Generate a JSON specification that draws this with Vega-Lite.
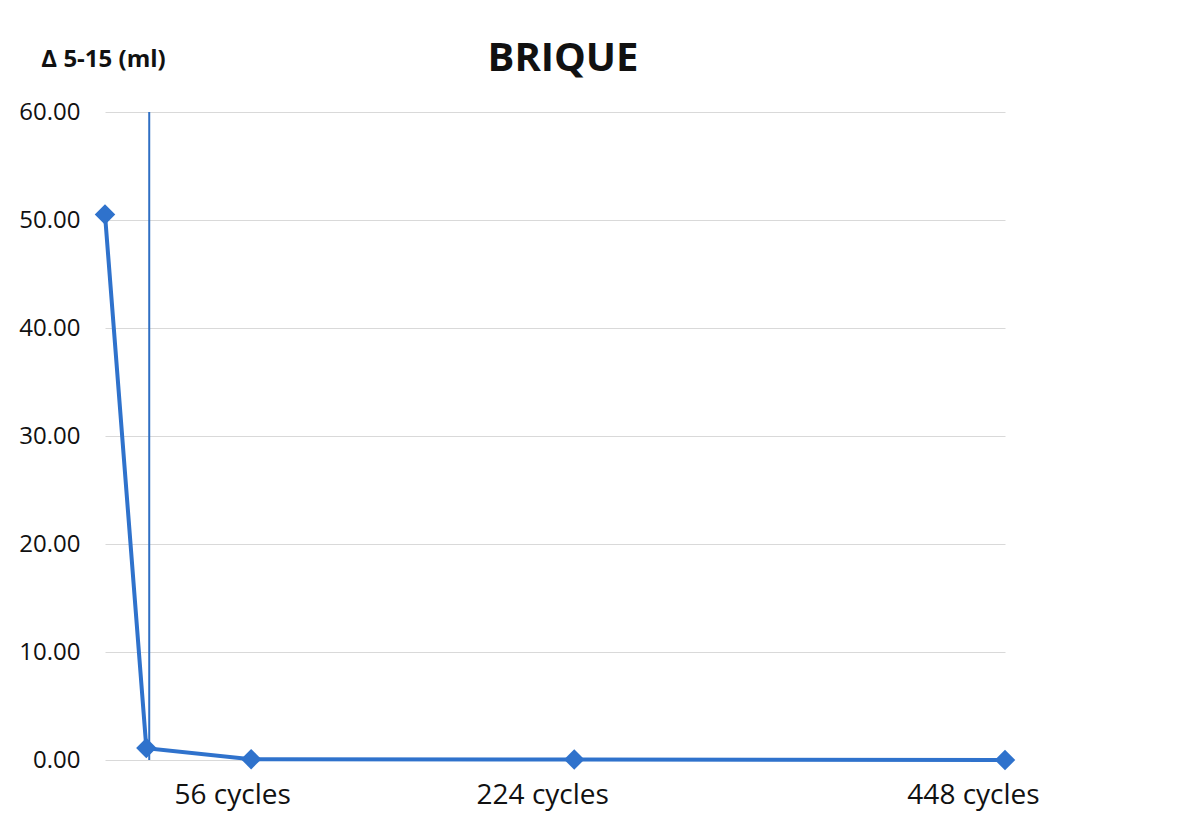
{
  "$schema": "https://vega.github.io/schema/vega-lite/v6.json",
  "autosize": "none",
  "width": 900,
  "height": 648,
  "padding": {"left": 105, "top": 112, "right": 174, "bottom": 64},
  "background": "white",
  "config": {
    "view": {"stroke": null},
    "font": "Lato"
  },
  "title": {
    "text": "BRIQUE",
    "fontSize": 40,
    "fontWeight": "bold",
    "font": "Open Sans",
    "anchor": "middle",
    "dx": 8,
    "offset": 34,
    "dy": 66,
    "color": "#111111"
  },
  "datasets": {
    "pts": [
      {"cycles": -20, "delta": 50.5},
      {"cycles": 1.5, "delta": 1.1},
      {"cycles": 56, "delta": 0.08},
      {"cycles": 224, "delta": 0.05},
      {"cycles": 448, "delta": 0.0}
    ],
    "vline": [
      {"cycles": 3, "y0": 0, "y1": 60}
    ]
  },
  "layer": [
    {
      "data": {"name": "vline"},
      "mark": {"type": "rule", "color": "#2f6fc4", "strokeWidth": 2},
      "encoding": {
        "x": {"field": "cycles", "type": "quantitative"},
        "y": {"field": "y0", "type": "quantitative"},
        "y2": {"field": "y1"}
      }
    },
    {
      "data": {"name": "pts"},
      "mark": {"type": "line", "color": "#2f72cc", "strokeWidth": 4, "point": {"shape": "diamond", "size": 420, "filled": true, "color": "#2f72cc"}},
      "encoding": {
        "x": {
          "field": "cycles",
          "type": "quantitative",
          "scale": {"domain": [-20, 448], "nice": false, "zero": false},
          "axis": {
            "title": null,
            "grid": false,
            "domain": false,
            "ticks": false,
            "values": [56, 224, 448],
            "labelExpr": "datum.value + ' cycles'",
            "labelFont": "Open Sans",
            "labelFontSize": 28,
            "labelColor": "#111111",
            "labelPadding": 21,
            "labelOffset": {"expr": "datum.value == 56 ? -19 : -32"},
            "labelFlush": false,
            "labelOverlap": false
          }
        },
        "y": {
          "field": "delta",
          "type": "quantitative",
          "scale": {"domain": [0, 60], "nice": false},
          "axis": {
            "values": [0, 10, 20, 30, 40, 50, 60],
            "format": ".2f",
            "grid": true,
            "gridColor": "#d9d9d9",
            "gridWidth": 1.2,
            "domain": false,
            "ticks": false,
            "labelFont": "Open Sans",
            "labelFontSize": 24,
            "labelColor": "#111111",
            "labelPadding": 25,
            "labelFlush": false,
            "title": "Δ 5-15 (ml)",
            "titleAngle": 0,
            "titleFont": "Open Sans",
            "titleFontSize": 24,
            "titleFontWeight": "bold",
            "titleColor": "#111111",
            "titleAlign": "center",
            "titleBaseline": "alphabetic",
            "titleX": -2,
            "titleY": -46
          }
        }
      }
    }
  ]
}
